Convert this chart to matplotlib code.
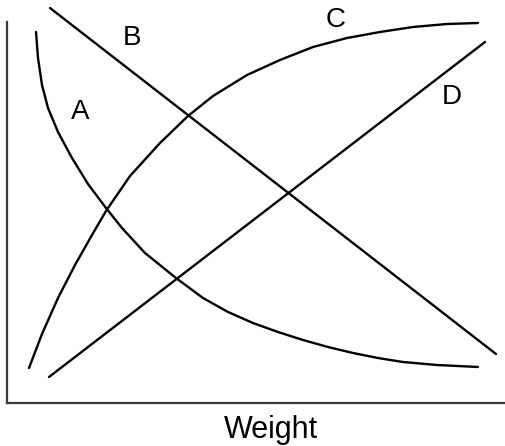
import matplotlib
matplotlib.use('Agg')
from matplotlib import pyplot as plt

plt.rcParams['font.family'] = ['Liberation Sans', 'DejaVu Sans']

# кривая A (убывающая)
a_x = [29, 31, 35, 41, 51, 65, 81, 99, 115, 138, 169, 196, 221, 246, 271, 296, 321, 346, 371, 396, 430, 471]
a_y = [371, 345, 318, 295, 271, 245, 219, 195, 175, 150, 125, 105, 91, 80, 71, 63, 56, 50, 45, 41, 38, 36]

# прямая B (убывающая)
b_x = [43, 489]
b_y = [395, 49]

# кривая C (возрастающая)
c_x = [22, 35, 51, 68, 85, 99, 123, 153, 181, 206, 240, 273, 306, 340, 373, 406, 440, 471]
c_y = [35, 69, 105, 138, 168, 192, 227, 260, 287, 307, 328, 343, 356, 365, 371, 376, 379, 380]

# прямая D (возрастающая)
d_x = [42, 478]
d_y = [26, 361]

# подписи кривых и их места
names = ['A', 'B', 'C', 'D']
name_x = [73, 125, 329, 445]
name_y = [291, 365, 383, 306]

fig = plt.figure(figsize=(5.06, 4.46), dpi=100)
ax = fig.add_axes([7 / 506, 43 / 446, 499 / 506, 403 / 446])

for xs, ys in [(a_x, a_y), (b_x, b_y), (c_x, c_y), (d_x, d_y)]:
    ax.plot(xs, ys, color='black', linewidth=1.7,
            solid_capstyle='round', solid_joinstyle='round')

for name, x, y in zip(names, name_x, name_y):
    ax.text(x, y, name, fontsize=20, ha='center', va='center')

ax.set_xlim(0, 499)
ax.set_ylim(0, 403)

# оси без делений
ax.set_xticks([])
ax.set_yticks([])
ax.spines['top'].set_visible(False)
ax.spines['right'].set_visible(False)
for side in ['left', 'bottom']:
    ax.spines[side].set_color('#3a3a3a')
    ax.spines[side].set_linewidth(1.6)
ax.spines['left'].set_bounds(0, 381)

ax.set_xlabel('Weight', fontsize=22, va='baseline')
ax.xaxis.set_label_coords((271 - 7) / 499, -35 / 403)

fig.savefig('out.png', dpi=100)
